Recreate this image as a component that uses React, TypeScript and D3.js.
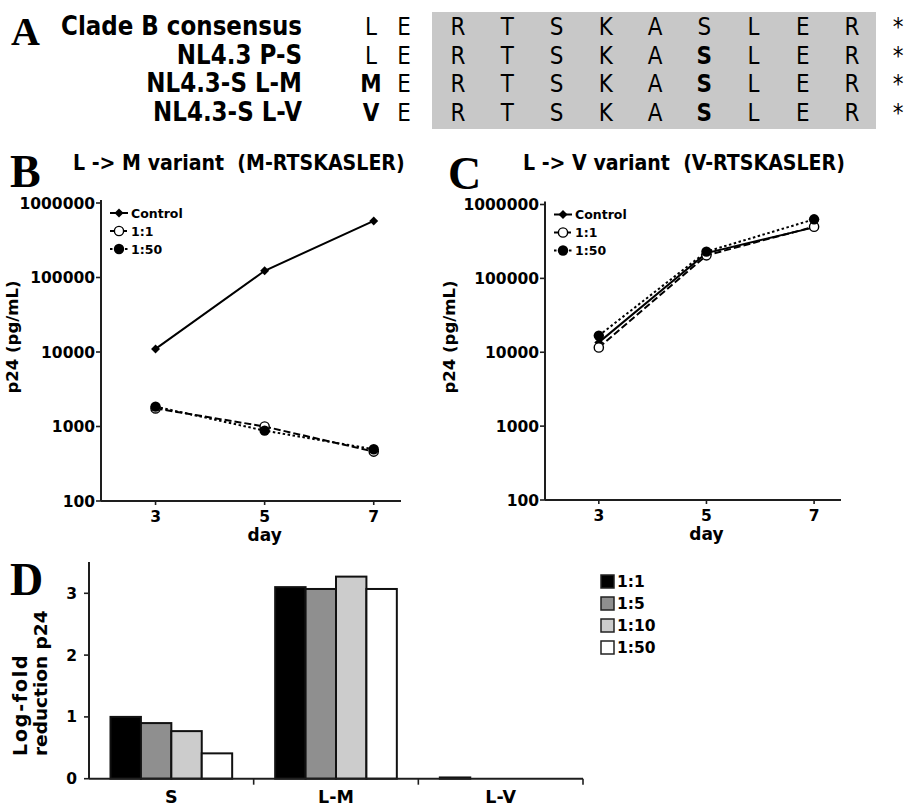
import React from 'react';
import * as d3 from 'd3';

const W = 907;
const H = 806;
const SANS = '"DejaVu Sans", Verdana, sans-serif';
const SERIF = '"Liberation Serif", "Times New Roman", serif';
const INK = '#1e1e1e';

// panel A: sequence alignment
const seqNames = ['Clade B consensus', 'NL4.3 P-S', 'NL4.3-S L-M', 'NL4.3-S L-V'];
const leadResidue = ['L', 'L', 'M', 'V'];
const leadBold = [false, false, true, true];
const epitope = ['R', 'T', 'S', 'K', 'A', 'S', 'L', 'E', 'R'];
const boldEpitopePos = 5; // the P->S change, bold in the NL4.3 rows

// panels B and C: p24 over time
const dayTicks = [3, 5, 7];
const days = [3, 5, 7];
const p24Ticks = [100, 1000, 10000, 100000, 1000000];
const seriesNames = ['Control', '1:1', '1:50'];
const lmControl = [11000, 123000, 575000];
const lm1to1 = [1750, 1000, 460];
const lm1to50 = [1850, 880, 495];
const lvControl = [13600, 220000, 490000];
const lv1to1 = [11600, 205000, 500000];
const lv1to50 = [16800, 230000, 630000];

// panel D: log-fold reduction
const variants = ['S', 'L-M', 'L-V'];
const dilutions = ['1:1', '1:5', '1:10', '1:50'];
const redS = [1.0, 0.9, 0.77, 0.41];
const redLM = [3.1, 3.07, 3.27, 3.07];
const redLV = [0.02, 0, 0, 0];
const redTicks = [0, 1, 2, 3];
const dilutionFills = ['#000000', '#8f8f8f', '#cccccc', '#ffffff'];

const dashes = [null, '7,3', '2.5,2.5'];

const Txt = ({ x, y, size, sy = 1, anchor = 'start', weight = 'bold', family = SANS, children, rotate = 0, ls = 0 }: any) => (
  <text
    transform={`translate(${x},${y}) rotate(${rotate}) scale(1,${sy})`}
    fontSize={size}
    fontFamily={family}
    fontWeight={weight}
    textAnchor={anchor}
    letterSpacing={ls}
    fill="#000"
    style={{ whiteSpace: 'pre' }}
  >
    {children}
  </text>
);

const Marker = ({ kind, cx, cy }: any) => {
  if (kind === 0) {
    const sq = d3.symbol(d3.symbolSquare, 40)();
    return <path d={sq as string} transform={`translate(${cx},${cy}) rotate(45)`} fill="#000" />;
  }
  if (kind === 1) return <circle cx={cx} cy={cy} r={4.6} fill="#fff" stroke="#000" strokeWidth={1.4} />;
  return <circle cx={cx} cy={cy} r={5.2} fill="#000" />;
};

function PanelAlign() {
  const rowY = d3.scalePoint().domain(seqNames).range([35, 121]);
  const leadX = d3.scalePoint().domain(['lead', 'E']).range([371, 404]);
  const epiX = d3.scalePoint<number>().domain(d3.range(epitope.length)).range([458, 852]);
  return (
    <g>
      <rect x={432} y={12} width={444} height={117} fill="#c8c8c8" />
      <Txt x={11} y={45} size={40} family={SERIF}>A</Txt>
      {seqNames.map((name, i) => {
        const y = rowY(name)!;
        return (
          <g key={name}>
            <Txt x={302} y={y} size={23} sy={1.15} anchor="end">{name}</Txt>
            <Txt x={leadX('lead')} y={y} size={21.5} sy={1.12} anchor="middle" weight={leadBold[i] ? 'bold' : 'normal'}>
              {leadResidue[i]}
            </Txt>
            <Txt x={leadX('E')} y={y} size={21.5} sy={1.12} anchor="middle" weight="normal">E</Txt>
            {epitope.map((aa, j) => (
              <Txt key={j} x={epiX(j)} y={y} size={21.5} sy={1.12} anchor="middle"
                weight={i > 0 && j === boldEpitopePos ? 'bold' : 'normal'}>
                {aa}
              </Txt>
            ))}
            <Txt x={898} y={y} size={21.5} sy={1.12} anchor="middle" weight="normal">*</Txt>
          </g>
        );
      })}
    </g>
  );
}

function LineChart({ left, right, top, bottom, letter, letterX, title, titleX, labelX, series }: any) {
  const x = d3.scaleLinear().domain([2, 7.5]).range([left, right]);
  const y = d3.scaleLog().domain([100, 1000000]).range([bottom, top]);
  const line = d3.line<number>().x((_, i) => x(days[i])).y((v) => y(v));
  return (
    <g>
      <Txt x={letterX} y={top - 16} size={46} family={SERIF}>{letter}</Txt>
      <Txt x={titleX} y={170} size={19} sy={1.08}>{title}</Txt>
      {/* axes */}
      <line x1={left} x2={left} y1={top - 3} y2={bottom} stroke={INK} strokeWidth={2} />
      <line x1={left} x2={right} y1={bottom} y2={bottom} stroke={INK} strokeWidth={2} />
      {p24Ticks.map((t) => (
        <g key={t}>
          <line x1={left - 5} x2={left} y1={y(t)} y2={y(t)} stroke={INK} strokeWidth={1.6} />
          <Txt x={left - 6} y={y(t) + 5.5} size={15.5} anchor="end">{String(t)}</Txt>
        </g>
      ))}
      {dayTicks.map((t) => (
        <g key={t}>
          <line x1={x(t)} x2={x(t)} y1={bottom} y2={bottom + 4} stroke={INK} strokeWidth={1.6} />
          <Txt x={x(t)} y={bottom + 21} size={15.5} anchor="middle">{String(t)}</Txt>
        </g>
      ))}
      <Txt x={x(5)} y={bottom + 40} size={17} anchor="middle">day</Txt>
      <Txt x={labelX} y={337} size={16.5} anchor="middle" rotate={-90}>p24 (pg/mL)</Txt>
      {/* series */}
      {series.map((vals: number[], k: number) => (
        <path key={k} d={line(vals) as string} fill="none" stroke="#000" strokeWidth={2}
          strokeDasharray={dashes[k] ?? undefined} />
      ))}
      {series.map((vals: number[], k: number) =>
        vals.map((v, i) => <Marker key={`${k}-${i}`} kind={k} cx={x(days[i])} cy={y(v)} />)
      )}
      {/* legend */}
      {seriesNames.map((name, k) => {
        const ly = top + 10 + k * 18;
        return (
          <g key={name}>
            <line x1={left + 9} x2={left + 27} y1={ly} y2={ly} stroke="#000" strokeWidth={2}
              strokeDasharray={dashes[k] ?? undefined} />
            <Marker kind={k} cx={left + 18} cy={ly} />
            <Txt x={left + 30} y={ly + 4.5} size={12.5}>{name}</Txt>
          </g>
        );
      })}
    </g>
  );
}

function BarChart() {
  const left = 89;
  const right = 583;
  const y = d3.scaleLinear().domain([0, 3.5]).range([778.7, 562.4]);
  const xBand = d3.scaleBand().domain(variants).range([left, right]);
  const xSub = d3.scaleBand().domain(dilutions).range([21.5, xBand.bandwidth() - 21.5]);
  const values = [redS, redLM, redLV];
  return (
    <g>
      <Txt x={10} y={595} size={46} family={SERIF}>D</Txt>
      {variants.map((v, vi) => (
        <g key={v} transform={`translate(${xBand(v)},0)`}>
          {dilutions.map((d, di) => {
            const val = values[vi][di];
            if (val <= 0) return null;
            return (
              <rect key={d} x={xSub(d)} y={y(val)} width={xSub.bandwidth()} height={y(0) - y(val)}
                fill={dilutionFills[di]} stroke="#111" strokeWidth={2} />
            );
          })}
        </g>
      ))}
      <line x1={left} x2={left} y1={562} y2={y(0)} stroke={INK} strokeWidth={2} />
      <line x1={left} x2={right} y1={y(0)} y2={y(0)} stroke={INK} strokeWidth={2} />
      {redTicks.map((t) => (
        <g key={t}>
          <line x1={left - 5} x2={left} y1={y(t)} y2={y(t)} stroke={INK} strokeWidth={1.6} />
          <Txt x={77} y={y(t) + 5.5} size={15.5} anchor="end">{String(t)}</Txt>
        </g>
      ))}
      {variants.map((v) => (
        <g key={v}>
          <line x1={xBand(v)! + xBand.bandwidth()} x2={xBand(v)! + xBand.bandwidth()} y1={y(0)} y2={y(0) + 6}
            stroke={INK} strokeWidth={1.6} />
          <Txt x={xBand(v)! + xBand.bandwidth() / 2} y={803} size={17.5} anchor="middle">{v}</Txt>
        </g>
      ))}
      <Txt x={27} y={756} size={19} rotate={-90} ls={1.8}>Log-fold</Txt>
      <Txt x={46.5} y={756} size={18.5} rotate={-90}>reduction p24</Txt>
      {dilutions.map((d, di) => {
        const cy = 581.5 + di * 22;
        return (
          <g key={d}>
            <rect x={601} y={cy - 6.5} width={13} height={13} fill={dilutionFills[di]} stroke="#222" strokeWidth={1.5} />
            <Txt x={617} y={cy + 5.5} size={15.5}>{d}</Txt>
          </g>
        );
      })}
    </g>
  );
}

export default function App() {
  return (
    <svg width={W} height={H} style={{ position: 'absolute', left: 0, top: 0, background: '#fff' }}>
      <rect width={W} height={H} fill="#fff" />
      <PanelAlign />
      <LineChart left={101} right={401} top={203} bottom={501} letter="B" letterX={10}
        title={'L -> M variant  (M-RTSKASLER)'} titleX={73} labelX={18}
        series={[lmControl, lm1to1, lm1to50]} />
      <LineChart left={545} right={841} top={204.5} bottom={500} letter="C" letterX={448}
        title={'L -> V variant  (V-RTSKASLER)'} titleX={523} labelX={455}
        series={[lvControl, lv1to1, lv1to50]} />
      <BarChart />
    </svg>
  );
}
